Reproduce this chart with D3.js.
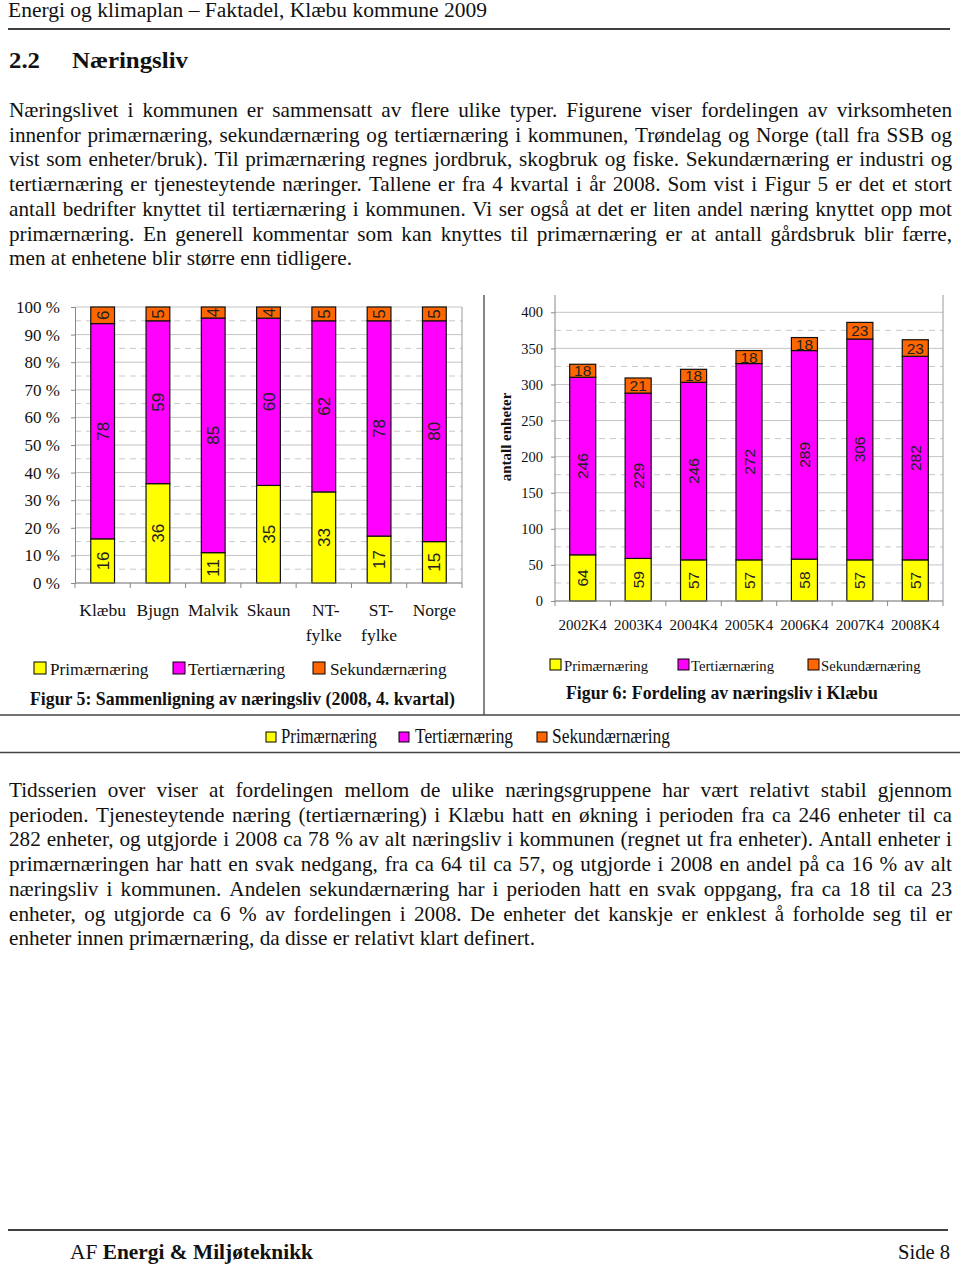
<!DOCTYPE html>
<html><head><meta charset="utf-8">
<script src="https://cdn.jsdelivr.net/npm/d3@7"></script>
<style>body{margin:0;background:#fff} svg{display:block} text{font-family:"Liberation Serif","Times New Roman",serif}</style>
</head><body><svg id="c" width="960" height="1265"></svg>
<script>
// ---------------- data ----------------
const seriesNames = ["Primærnæring", "Tertiærnæring", "Sekundærnæring"];
const seriesColors = ["#ffff00", "#ff00ff", "#ff6600"];

const fig5Categories = ["Klæbu", "Bjugn", "Malvik", "Skaun", "NT-fylke", "ST-fylke", "Norge"];
const fig5Prim = [16, 36, 11, 35, 33, 17, 15];
const fig5Tert = [78, 59, 85, 60, 62, 78, 80];
const fig5Sek = [6, 5, 4, 4, 5, 5, 5];
const fig5Ticks = [0, 10, 20, 30, 40, 50, 60, 70, 80, 90, 100];

const fig6Periods = ["2002K4", "2003K4", "2004K4", "2005K4", "2006K4", "2007K4", "2008K4"];
const fig6Prim = [64, 59, 57, 57, 58, 57, 57];
const fig6Tert = [246, 229, 246, 272, 289, 306, 282];
const fig6Sek = [18, 21, 18, 18, 18, 23, 23];
const fig6Ticks = [0, 50, 100, 150, 200, 250, 300, 350, 400];

const headerText = "Energi og klimaplan – Faktadel, Klæbu kommune 2009";
const para1 = [
  "Næringslivet i kommunen er sammensatt av flere ulike typer. Figurene viser fordelingen av virksomheten",
  "innenfor primærnæring, sekundærnæring og tertiærnæring i kommunen, Trøndelag og Norge (tall fra SSB og",
  "vist som enheter/bruk). Til primærnæring regnes jordbruk, skogbruk og fiske. Sekundærnæring er industri og",
  "tertiærnæring er tjenesteytende næringer. Tallene er fra 4 kvartal i år 2008. Som vist i Figur 5 er det et stort",
  "antall bedrifter knyttet til tertiærnæring i kommunen. Vi ser også at det er liten andel næring knyttet opp mot",
  "primærnæring. En generell kommentar som kan knyttes til primærnæring er at antall gårdsbruk blir færre,",
  "men at enhetene blir større enn tidligere."
];
const para2 = [
  "Tidsserien over viser at fordelingen mellom de ulike næringsgruppene har vært relativt stabil gjennom",
  "perioden. Tjenesteytende næring (tertiærnæring) i Klæbu hatt en økning i perioden fra ca 246 enheter til ca",
  "282 enheter, og utgjorde i 2008 ca 78 % av alt næringsliv i kommunen (regnet ut fra enheter). Antall enheter i",
  "primærnæringen har hatt en svak nedgang, fra ca 64 til ca 57, og utgjorde i 2008 en andel på ca 16 % av alt",
  "næringsliv i kommunen. Andelen sekundærnæring har i perioden hatt en svak oppgang, fra ca 18 til ca 23",
  "enheter, og utgjorde ca 6 % av fordelingen i 2008. De enheter det kanskje er enklest å forholde seg til er",
  "enheter innen primærnæring, da disse er relativt klart definert."
];

// ---------------- page ----------------
const svg = d3.select("#c");
svg.append("rect").attr("width", 960).attr("height", 1265).attr("fill", "#fff");
const ink = "#111";

svg.append("text").attr("x", 8).attr("y", 17).attr("font-size", 20).attr("fill", ink)
  .attr("textLength", 479).attr("lengthAdjust", "spacingAndGlyphs").text(headerText);
svg.append("line").attr("x1", 8).attr("x2", 950).attr("y1", 29).attr("y2", 29).attr("stroke", "#000").attr("stroke-width", 1.5);

svg.append("text").attr("x", 9).attr("y", 68).attr("font-size", 23).attr("font-weight", "bold").attr("fill", ink)
  .attr("textLength", 31).attr("lengthAdjust", "spacingAndGlyphs").text("2.2");
svg.append("text").attr("x", 72).attr("y", 68).attr("font-size", 23).attr("font-weight", "bold").attr("fill", ink)
  .attr("textLength", 116).attr("lengthAdjust", "spacingAndGlyphs").text("Næringsliv");

function justLine(g, str, x0, x1, y, justify, size) {
  const words = str.split(" ");
  const tmp = g.append("text").attr("font-size", size);
  const widths = words.map(w => { tmp.text(w); return tmp.node().getComputedTextLength(); });
  tmp.text("a a"); const w3 = tmp.node().getComputedTextLength();
  tmp.text("aa"); const w2 = tmp.node().getComputedTextLength();
  tmp.remove();
  const spaceW = w3 - w2;
  const total = d3.sum(widths);
  let gap = justify && words.length > 1 ? (x1 - x0 - total) / (words.length - 1) : spaceW;
  let scale = 1;
  if (gap < 2) { gap = 2; scale = (x1 - x0 - gap * (words.length - 1)) / total; }
  let x = x0;
  words.forEach((w, i) => {
    const t = g.append("text").attr("x", x).attr("y", y).attr("font-size", size).attr("fill", ink).text(w);
    if (scale !== 1) t.attr("textLength", widths[i] * scale).attr("lengthAdjust", "spacingAndGlyphs");
    x += widths[i] * scale + gap;
  });
}
const pg = svg.append("g");
const bodySize = 21.2;
para1.forEach((l, i) => justLine(pg, l, 9, 952, 117 + i * 24.7, i < para1.length - 1, bodySize));
para2.forEach((l, i) => justLine(pg, l, 9, 952, 797 + i * 24.7, i < para2.length - 1, bodySize));

// divider lines
svg.append("line").attr("x1", 484).attr("x2", 484).attr("y1", 295).attr("y2", 715).attr("stroke", "#444").attr("stroke-width", 1.3);
svg.append("line").attr("x1", 0).attr("x2", 960).attr("y1", 715).attr("y2", 715).attr("stroke", "#444").attr("stroke-width", 1.3);
svg.append("line").attr("x1", 0).attr("x2", 960).attr("y1", 752.5).attr("y2", 752.5).attr("stroke", "#444").attr("stroke-width", 1.3);

// ---------------- shared helpers ----------------
const keys = ["prim", "tert", "sek"];
function gridlines(g, y, ticks, x0, x1) {
  const step = ticks[1] - ticks[0];
  ticks.forEach(t => {
    g.append("line").attr("x1", x0).attr("x2", x1).attr("y1", y(t)).attr("y2", y(t))
      .attr("stroke", "#c4c4c4").attr("stroke-width", 1);
  });
  ticks.slice(0, -1).forEach(t => {
    g.append("line").attr("x1", x0).attr("x2", x1).attr("y1", y(t + step / 2)).attr("y2", y(t + step / 2))
      .attr("stroke", "#c8c8c8").attr("stroke-width", 1).attr("stroke-dasharray", "6,5");
  });
}
function legend(g, items, y, size, fontSize) {
  items.forEach(it => {
    g.append("rect").attr("x", it.sx).attr("y", y - size).attr("width", size).attr("height", size)
      .attr("fill", it.color).attr("stroke", "#000").attr("stroke-width", 1);
    const t = g.append("text").attr("x", it.tx).attr("y", y + 1).attr("font-size", fontSize).attr("fill", ink).text(it.name);
    if (it.len) t.attr("textLength", it.len).attr("lengthAdjust", "spacingAndGlyphs");
  });
}

// ---------------- Figure 5 ----------------
const f5 = svg.append("g");
const rows5 = fig5Categories.map((c, i) => ({ cat: c, prim: fig5Prim[i], tert: fig5Tert[i], sek: fig5Sek[i] }));
const x5 = d3.scaleBand().domain(fig5Categories).range([75, 462]).paddingInner(0.57).paddingOuter(0.285);
const y5 = d3.scaleLinear().domain([0, 100]).range([583, 307]);
gridlines(f5, y5, fig5Ticks, 75, 462);
f5.append("line").attr("x1", 462).attr("x2", 462).attr("y1", 307).attr("y2", 583).attr("stroke", "#999");

const stack5 = d3.stack().keys(keys).offset(d3.stackOffsetExpand)(rows5);
stack5.forEach((layer, li) => {
  f5.selectAll(null).data(layer).enter().append("rect")
    .attr("x", d => x5(d.data.cat)).attr("width", x5.bandwidth())
    .attr("y", d => y5(d[1] * 100)).attr("height", d => y5(d[0] * 100) - y5(d[1] * 100))
    .attr("fill", seriesColors[li]).attr("stroke", "#111").attr("stroke-width", 1.2);
  f5.selectAll(null).data(layer).enter().append("text")
    .attr("transform", d => `translate(${x5(d.data.cat) + x5.bandwidth() / 2},${y5((d[0] + d[1]) * 50)}) rotate(-90)`)
    .attr("text-anchor", "middle").attr("dy", "0.36em")
    .style("font-family", "'Liberation Sans', Arial, sans-serif").attr("font-size", 17).attr("fill", "#222")
    .text(d => d.data[keys[li]]);
});

const ax5 = d3.axisLeft(y5).tickValues(fig5Ticks).tickFormat(d => d + " %").tickSize(4).tickPadding(11);
const ax5g = f5.append("g").attr("transform", "translate(75,0)").call(ax5);
ax5g.select(".domain").attr("stroke", "#888");
ax5g.selectAll(".tick line").attr("stroke", "#888");
ax5g.selectAll("text").attr("font-size", 17).attr("fill", ink).style("font-family", "'Liberation Serif', serif");

f5.append("line").attr("x1", 75).attr("x2", 462).attr("y1", 583).attr("y2", 583).attr("stroke", "#888");
d3.range(fig5Categories.length + 1).forEach(i => {
  const xx = 75 + i * x5.step();
  f5.append("line").attr("x1", xx).attr("x2", xx).attr("y1", 583).attr("y2", 588).attr("stroke", "#888");
});
fig5Categories.forEach(c => {
  const parts = c.includes("-") ? [c.split("-")[0] + "-", c.split("-")[1]] : [c];
  parts.forEach((p, j) => {
    f5.append("text").attr("x", x5(c) + x5.bandwidth() / 2 + (j === 0 && parts.length > 1 ? 2 : 0)).attr("y", 616 + j * 24.5)
      .attr("text-anchor", "middle").attr("font-size", 17.5).attr("fill", ink).text(p);
  });
});
legend(f5, [
  { name: seriesNames[0], color: seriesColors[0], sx: 34, tx: 50 },
  { name: seriesNames[1], color: seriesColors[1], sx: 173, tx: 188 },
  { name: seriesNames[2], color: seriesColors[2], sx: 313, tx: 330 }
], 674, 12, 17.2);
f5.append("text").attr("x", 30).attr("y", 705).attr("font-size", 17.8).attr("font-weight", "bold").attr("fill", ink)
  .text("Figur 5: Sammenligning av næringsliv (2008, 4. kvartal)");

// ---------------- Figure 6 ----------------
const f6 = svg.append("g");
const rows6 = fig6Periods.map((p, i) => ({ cat: p, prim: fig6Prim[i], tert: fig6Tert[i], sek: fig6Sek[i] }));
const x6 = d3.scaleBand().domain(fig6Periods).range([555, 943]).paddingInner(0.53).paddingOuter(0.265);
const y6 = d3.scaleLinear().domain([0, 400]).range([601, 312.3]);
gridlines(f6, y6, fig6Ticks, 555, 943);
f6.append("line").attr("x1", 943).attr("x2", 943).attr("y1", 295).attr("y2", 601).attr("stroke", "#999");

const stack6 = d3.stack().keys(keys)(rows6);
stack6.forEach((layer, li) => {
  f6.selectAll(null).data(layer).enter().append("rect")
    .attr("x", d => x6(d.data.cat)).attr("width", x6.bandwidth())
    .attr("y", d => y6(d[1])).attr("height", d => y6(d[0]) - y6(d[1]))
    .attr("fill", seriesColors[li]).attr("stroke", "#111").attr("stroke-width", 1.2);
  f6.selectAll(null).data(layer).enter().append("text")
    .attr("transform", d => `translate(${x6(d.data.cat) + x6.bandwidth() / 2},${y6((d[0] + d[1]) / 2)})` + (li < 2 ? " rotate(-90)" : ""))
    .attr("text-anchor", "middle").attr("dy", "0.36em")
    .style("font-family", "'Liberation Sans', Arial, sans-serif").attr("font-size", 15.5).attr("fill", "#222")
    .text(d => d.data[keys[li]]);
});

const ax6 = d3.axisLeft(y6).tickValues(fig6Ticks).tickSize(4).tickPadding(8);
const ax6g = f6.append("g").attr("transform", "translate(555,0)").call(ax6);
ax6g.select(".domain").remove();
ax6g.selectAll(".tick line").attr("stroke", "#888");
ax6g.selectAll("text").attr("font-size", 14.5).attr("fill", ink).style("font-family", "'Liberation Serif', serif");
f6.append("line").attr("x1", 555).attr("x2", 555).attr("y1", 295).attr("y2", 601).attr("stroke", "#888");
f6.append("line").attr("x1", 555).attr("x2", 943).attr("y1", 601).attr("y2", 601).attr("stroke", "#888");
d3.range(fig6Periods.length + 1).forEach(i => {
  const xx = 555 + i * x6.step();
  f6.append("line").attr("x1", xx).attr("x2", xx).attr("y1", 601).attr("y2", 606).attr("stroke", "#888");
});
fig6Periods.forEach(p => {
  f6.append("text").attr("x", x6(p) + x6.bandwidth() / 2).attr("y", 630).attr("text-anchor", "middle")
    .attr("font-size", 15).attr("fill", ink).text(p);
});
f6.append("text").attr("transform", "translate(511,437) rotate(-90)").attr("text-anchor", "middle")
  .attr("font-size", 15).attr("font-weight", "bold").attr("fill", ink).text("antall enheter");
legend(f6, [
  { name: seriesNames[0], color: seriesColors[0], sx: 550, tx: 564 },
  { name: seriesNames[1], color: seriesColors[1], sx: 678, tx: 691 },
  { name: seriesNames[2], color: seriesColors[2], sx: 808, tx: 821 }
], 670, 11, 14.7);
f6.append("text").attr("x", 566).attr("y", 699).attr("font-size", 17.8).attr("font-weight", "bold").attr("fill", ink)
  .text("Figur 6: Fordeling av næringsliv i Klæbu");

// ---------------- shared legend ----------------
const lg = svg.append("g");
legend(lg, [
  { name: seriesNames[0], color: seriesColors[0], sx: 266, tx: 281, len: 96 },
  { name: seriesNames[1], color: seriesColors[1], sx: 399, tx: 415, len: 98 },
  { name: seriesNames[2], color: seriesColors[2], sx: 537, tx: 552, len: 118 }
], 742, 10, 22);

// ---------------- footer ----------------
svg.append("line").attr("x1", 8).attr("x2", 948).attr("y1", 1230).attr("y2", 1230).attr("stroke", "#000").attr("stroke-width", 1.5);
const ft = svg.append("text").attr("x", 70).attr("y", 1259).attr("font-size", 21).attr("fill", ink)
  .attr("textLength", 243).attr("lengthAdjust", "spacingAndGlyphs");
ft.append("tspan").text("AF ");
ft.append("tspan").attr("font-weight", "bold").text("Energi & Miljøteknikk");
svg.append("text").attr("x", 950).attr("y", 1259).attr("font-size", 21).attr("fill", ink).attr("text-anchor", "end")
  .attr("textLength", 52).attr("lengthAdjust", "spacingAndGlyphs").text("Side 8");
</script></body></html>
